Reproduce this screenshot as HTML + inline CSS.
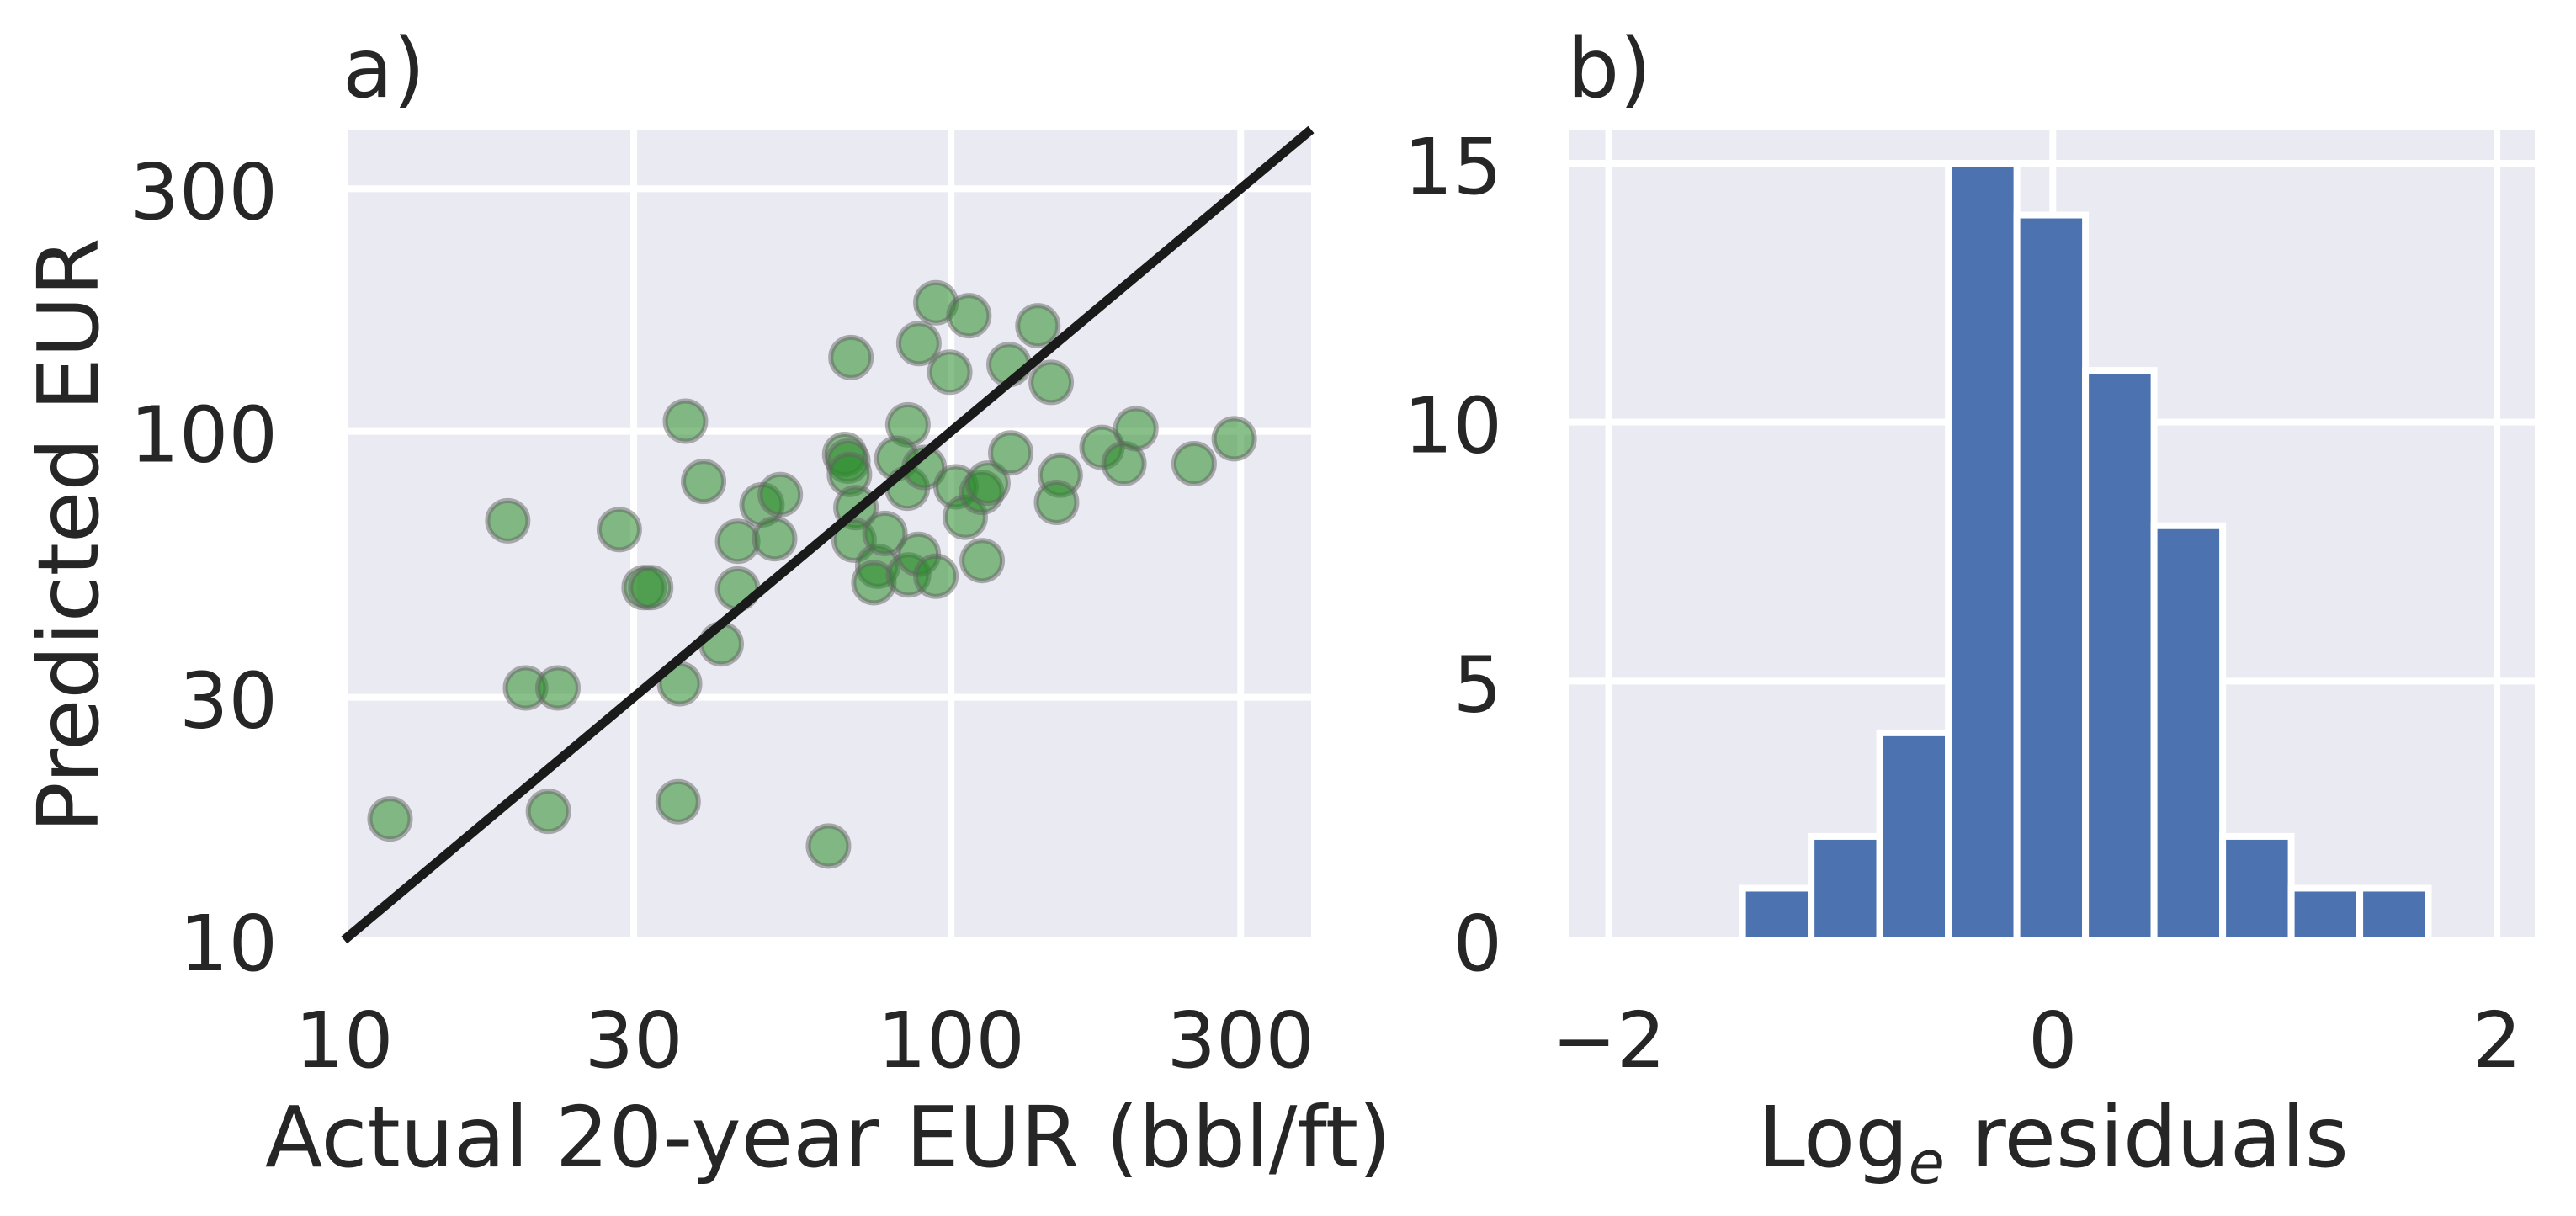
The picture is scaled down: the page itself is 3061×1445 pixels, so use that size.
<!DOCTYPE html>
<html><head><meta charset="utf-8"><style>
html,body{margin:0;padding:0;background:#fff;}
svg{display:block;}
text{font-family:"DejaVu Sans","Liberation Sans",sans-serif;fill:#262626;}
</style></head><body>
<svg id="fig" width="3061" height="1445" viewBox="0 0 3061 1445" xmlns="http://www.w3.org/2000/svg">
<g id="pa"></g>
<g id="pb"></g>
</svg>
<script>
// Panel a data
const actualEUR = [11.9,18.6,19.9,22.5,21.7,28.4,31.2,32,35.7,35.5,36.5,39.1,41.8,44.5,44.5,48.8,52.3,51.2,62.8,68.4,66.8,67.6,68,69.7,69.2,75.7,74.6,77.8,84.9,81.4,84.7,85.1,88.5,88.3,90.3,94.4,94.4,99.5,101.9,105.5,107,112.3,115,112.5,124.6,125.4,139,146.2,151.3,149.2,177.3,192.7,201.6,251.4,292.8];
const predictedEUR = [17.3,66.7,31.3,31.3,17.9,64.1,49.3,49.3,31.9,18.7,104.7,79.7,38.2,60.8,49,71.7,75.1,61.5,15.3,139.7,90.1,87.4,82.3,70.8,61.1,54.3,50.4,63,103,88.5,77.3,52.2,148.8,57.3,84.9,179,51.9,130.7,77.8,67.8,168.8,75.9,79.1,55.7,135.3,90.7,161.3,124.8,82,72.5,93,86.4,101.2,86.4,96.7];
const logTicks = [10,30,100,300];
const logTickLabels = ["10","30","100","300"];
// Panel b data
const binStart = -1.397;
const binWidth = 0.3088;
const binCounts = [1,2,4,15,14,11,8,2,1,1];
const histXTicks = [-2,0,2];
const histXTickLabels = ["\u22122","0","2"];
const histYTicks = [0,5,10,15];
const histYTickLabels = ["0","5","10","15"];

const NS="http://www.w3.org/2000/svg";
function mk(parent,tag,attrs){const e=document.createElementNS(NS,tag);for(const k in attrs)e.setAttribute(k,attrs[k]);parent.appendChild(e);return e;}

// Panel a
const A={l:409,r:1558,t:154,b:1117,min:10,max:392};
const ax=v=>A.l+(Math.log10(v)-Math.log10(A.min))/(Math.log10(A.max)-Math.log10(A.min))*(A.r-A.l);
const ay=v=>A.b-(Math.log10(v)-Math.log10(A.min))/(Math.log10(A.max)-Math.log10(A.min))*(A.b-A.t);
const pa=document.getElementById('pa');
let bg=mk(pa,'rect',{x:A.l,y:A.t,width:A.r-A.l,height:A.b-A.t,fill:'#EAEAF2'});


logTicks.forEach((v,i)=>{
  let g=mk(pa,'line',{x1:ax(v),x2:ax(v),y1:A.t,y2:A.b,stroke:'#fff','stroke-width':8});
  
  
  let h=mk(pa,'line',{x1:A.l,x2:A.r,y1:ay(v),y2:ay(v),stroke:'#fff','stroke-width':8});
  
  
  let tx=mk(pa,'text',{x:ax(v),y:1268,'font-size':92,'text-anchor':'middle'});tx.textContent=logTickLabels[i];
  
  
  let ty=mk(pa,'text',{x:330,y:ay(v)+36,'font-size':92,'text-anchor':'end'});ty.textContent=logTickLabels[i];
  
  
});
actualEUR.forEach((v,i)=>{
  let c=mk(pa,'circle',{cx:ax(v),cy:ay(predictedEUR[i]),r:24,fill:'rgba(40,140,40,0.55)',stroke:'rgba(100,100,100,0.5)','stroke-width':6});
  
  
});
let ln=mk(pa,'line',{x1:ax(A.min),y1:ay(A.min),x2:ax(A.max),y2:ay(A.max),stroke:'#1a1a1a','stroke-width':11});


let ta=mk(pa,'text',{x:407,y:115,'font-size':98});ta.textContent='a)';


let xla=mk(pa,'text',{x:984,y:1386,'font-size':100,'text-anchor':'middle'});xla.textContent='Actual 20-year EUR (bbl/ft)';


let yla=mk(pa,'text',{x:116,y:636,'font-size':100,'text-anchor':'middle',transform:'rotate(-90 116 636)'});yla.textContent='Predicted EUR';



// Panel b
const B={l:1864,r:3012,t:154,b:1117,xmin:-2.18,xmax:2.17,ymin:0,ymax:15.65};
const bx=v=>B.l+(v-B.xmin)/(B.xmax-B.xmin)*(B.r-B.l);
const by=v=>B.b-(v-B.ymin)/(B.ymax-B.ymin)*(B.b-B.t);
const pb=document.getElementById('pb');
let bg2=mk(pb,'rect',{x:B.l,y:B.t,width:B.r-B.l,height:B.b-B.t,fill:'#EAEAF2'});


histXTicks.forEach((v,i)=>{
  let g=mk(pb,'line',{x1:bx(v),x2:bx(v),y1:B.t,y2:B.b,stroke:'#fff','stroke-width':8});
  
  
  let t=mk(pb,'text',{x:bx(v),y:1268,'font-size':92,'text-anchor':'middle'});t.textContent=histXTickLabels[i];
  
  
});
histYTicks.forEach((v,i)=>{
  let g=mk(pb,'line',{x1:B.l,x2:B.r,y1:by(v),y2:by(v),stroke:'#fff','stroke-width':8});
  
  
  let t=mk(pb,'text',{x:1785,y:by(v)+36,'font-size':92,'text-anchor':'end'});t.textContent=histYTickLabels[i];
  
  
});
binCounts.forEach((c,i)=>{
  const x0=binStart+i*binWidth, x1=x0+binWidth;
  let r=mk(pb,'rect',{x:bx(x0),y:by(c),width:bx(x1)-bx(x0),height:by(0)-by(c),fill:'#4C72B0',stroke:'#fff','stroke-width':8});
  
  
});
let tb=mk(pb,'text',{x:1862,y:115,'font-size':98});tb.textContent='b)';


let xlb=mk(pb,'text',{x:2440,y:1386,'font-size':100,'text-anchor':'middle'});


xlb.innerHTML='Log<tspan font-size="70" dy="20" font-style="italic">e</tspan><tspan dy="-20"> residuals</tspan>';
</script>
</body></html>
